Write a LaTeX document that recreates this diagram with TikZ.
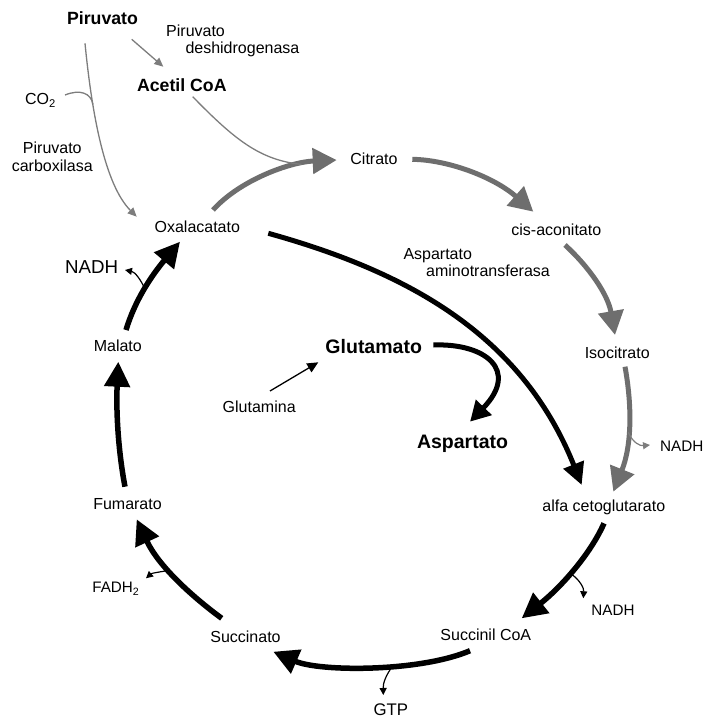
\documentclass[tikz,border=0pt]{standalone}
\usepackage{fontspec}
\setmainfont{Liberation Sans}
\usetikzlibrary{arrows.meta}
\definecolor{gc}{RGB}{110,110,110}
\definecolor{tg}{RGB}{125,125,125}
\begin{document}
\begin{tikzpicture}[x=1pt,y=-1pt,
 lbl/.style={inner sep=0pt, anchor=base, font=\fontsize{16}{17.5}\selectfont},
 bigl/.style={inner sep=0pt, anchor=base, font=\bfseries\fontsize{17.7}{20}\selectfont},
 hugel/.style={inner sep=0pt, anchor=base, font=\bfseries\fontsize{19.5}{22}\selectfont},
 cycg/.style={draw=gc, line width=5pt, -{Triangle[length=24pt,width=25pt]}},
 cycb/.style={draw=black, line width=5.5pt, -{Triangle[length=25pt,width=25pt]}},
 thing/.style={draw=tg, line width=1.3pt, -{Triangle[length=9pt,width=8pt]}},
 side/.style={draw=black, line width=1.2pt, -{Triangle[length=7pt,width=7pt]}},
]
\useasboundingbox (0,0) rectangle (704,719);
% nodes
\node[bigl] (pir) at (102.5,25) {Piruvato};
\node[bigl] (acet) at (181.8,91.7) {Acetil CoA};
\node[lbl, anchor=base west, align=left, font=\fontsize{16}{16.7}\selectfont] (pdh) at (166,53.3) {Piruvato\\\hspace*{19.3pt}deshidrogenasa};
\node[lbl] (co2) at (40.5,105) {CO\textsubscript{2}};
\node[lbl, align=center, font=\fontsize{16}{18.3}\selectfont] (pc) at (52.3,171.7) {Piruvato\\carboxilasa};
\node[lbl] (oxa) at (197.3,233) {Oxalacatato};
\node[lbl] (cit) at (374,164.3) {Citrato};
\node[lbl] (cis) at (556.3,236) {cis-aconitato};
\node[lbl, anchor=base west, align=left, font=\fontsize{16}{17.4}\selectfont] (aat) at (403.3,276.7) {Aspartato\\\hspace*{22.7pt}aminotransferasa};
\node[lbl] (iso) at (617.2,358.3) {Isocitrato};
\node[hugel] (glu) at (373.7,353.3) {Glutamato};
\node[lbl] (gln) at (259.2,412.3) {Glutamina};
\node[hugel] (asp) at (462.5,448.3) {Aspartato};
\node[lbl, font=\fontsize{15.3}{17}\selectfont] (nadhA) at (681.7,451.7) {NADH};
\node[lbl] (akg) at (603.8,511.7) {alfa cetoglutarato};
\node[lbl, font=\fontsize{15.2}{17}\selectfont] (nadhB) at (613,615) {NADH};
\node[lbl] (scoa) at (485.8,640.7) {Succinil CoA};
\node[lbl, font=\fontsize{16.8}{19}\selectfont] (gtp) at (390.8,715.5) {GTP};
\node[lbl] (suc) at (245.5,642.3) {Succinato};
\node[lbl, font=\fontsize{15.2}{17}\selectfont] (fadh) at (115.8,592.7) {FADH\textsubscript{2}};
\node[lbl] (fum) at (127.5,509.3) {Fumarato};
\node[lbl] (mal) at (117.8,351.7) {Malato};
\node[lbl, font=\fontsize{18.7}{20}\selectfont] (nadhC) at (91.7,273.3) {NADH};
% pyruvate entry
\draw[thing] ([shift={(29.2,14.3)}]pir.base) -- ([shift={(-18.5,-25)}]acet.base);
\draw[thing] ([shift={(-17.5,18.3)}]pir.base) .. controls (92,115) and (105,185) .. ([shift={(-60.6,-16.3)}]oxa.base) coordinate[pos=0.29] (j7);
\draw[thing,-] ([shift={(24.5,-10)}]co2.base) .. controls (80,89) and (91,93) .. (j7);
% cycle (gray part)
\draw[cycg] ([shift={(15.7,-23)}]oxa.base) .. controls (240,180) and (290,162) .. ([shift={(-37.3,-4.3)}]cit.base) coordinate[pos=0.75] (j1);
\draw[thing,-] ([shift={(10.9,5)}]acet.base) .. controls (235,140) and (260,160) .. (j1);
\draw[cycg] ([shift={(38.3,-5)}]cit.base) .. controls (450,160) and (495,178) .. ([shift={(-23,-24.3)}]cis.base);
\draw[cycg] ([shift={(8.7,9)}]cis.base) .. controls (590,268) and (608,295) .. ([shift={(-2.2,-23.3)}]iso.base);
\draw[cycg] ([shift={(7.8,8.4)}]iso.base) .. controls (632,405) and (632,445) .. ([shift={(9.5,-20)}]akg.base) coordinate[pos=0.55] (j2);
\draw[thing, line width=1.2pt, -{Triangle[length=7pt,width=7pt]}] (j2) .. controls (633,443) and (640,446) .. ([shift={(-31.7,-6.7)}]nadhA.base);
% cycle (black part)
\draw[cycb] ([shift={(0.2,11.6)}]akg.base) .. controls (590,555) and (560,588) .. ([shift={(35.9,-22.4)}]scoa.base) coordinate[pos=0.52] (j3);
\draw[side] (j3) .. controls (580,580) and (584,588) .. ([shift={(-29.7,-16.7)}]nadhB.base);
\draw[cycb] ([shift={(-15.8,10)}]scoa.base) .. controls (420,672) and (320,672) .. ([shift={(27.8,9.4)}]suc.base) coordinate[pos=0.4] (j4);
\draw[side] (j4) .. controls (386,675) and (383,683) .. ([shift={(-7.5,-20.5)}]gtp.base);
\draw[cycb] ([shift={(-23.8,-24)}]suc.base) .. controls (190,595) and (158,565) .. ([shift={(9.2,10)}]fum.base) coordinate[pos=0.57] (j5);
\draw[side] (j5) .. controls (160,572) and (152,573) .. ([shift={(30.2,-14.4)}]fadh.base);
\draw[cycb] ([shift={(-2.5,-22.6)}]fum.base) .. controls (118,450) and (116,410) .. ([shift={(0.5,10)}]mal.base);
\draw[cycb] ([shift={(8.2,-21.7)}]mal.base) .. controls (135,300) and (152,275) .. ([shift={(-17.3,8.7)}]oxa.base) coordinate[pos=0.48] (j6);
\draw[side] (j6) .. controls (141,280) and (135,272) .. ([shift={(33.3,-3.3)}]nadhC.base);
% transamination
\draw[cycb, line width=5pt, -{Triangle[length=22pt,width=21pt]}] ([shift={(71,0.3)}]oxa.base) .. controls (400,270) and (520,330) .. ([shift={(-22.1,-26.7)}]akg.base);
\draw[cycb, line width=5pt, -{Triangle[length=20pt,width=21pt]}] ([shift={(59.6,-8.3)}]glu.base) .. controls (485,343) and (520,370) .. ([shift={(7.5,-26.6)}]asp.base);
\draw[side, line width=1.3pt, -{Triangle[length=11pt,width=10pt]}] ([shift={(10.8,-21.3)}]gln.base) -- ([shift={(-55.4,9)}]glu.base);
\end{tikzpicture}
\end{document}
